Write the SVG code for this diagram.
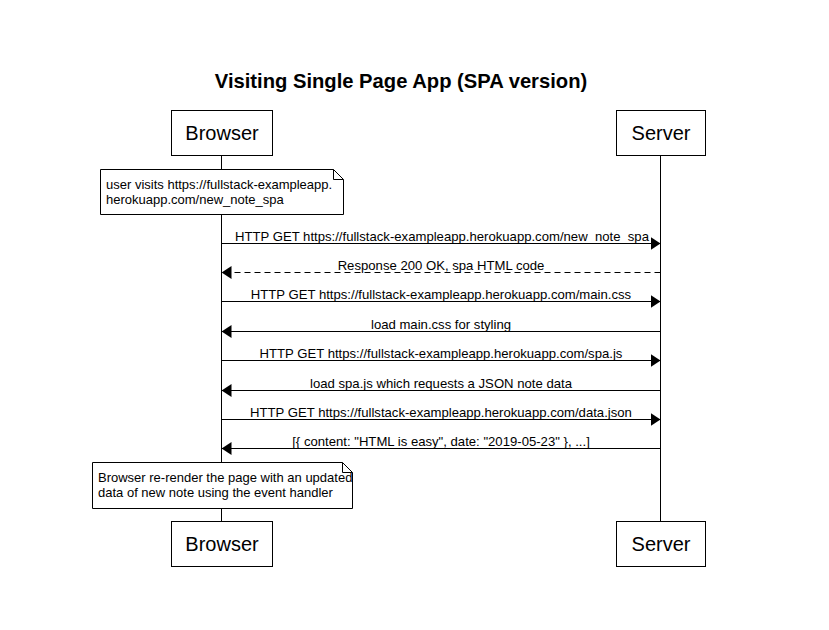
<svg xmlns="http://www.w3.org/2000/svg" width="829" height="630" viewBox="0 0 829 630">
  <style>
    text { font-family: "Liberation Sans", Arial, sans-serif; fill: #000; }
    .title { font-size: 20.2px; font-weight: bold; }
    .actor rect { fill: #fff; stroke: #000; stroke-width: 1; }
    .actor text { font-size: 20px; }
    .note path { fill: #fff; stroke: #000; stroke-width: 1; }
    .note text { font-size: 13px; }
    .msg line { stroke: #000; stroke-width: 1; }
    .msg text { font-size: 13.13px; }
    .dashed { stroke-dasharray: 6 4; }
    .life { stroke: #000; stroke-width: 1; }
  </style>
  <defs>
    <marker id="arrow" viewBox="0 0 10 10" refX="10" refY="5" markerWidth="10" markerHeight="13" markerUnits="userSpaceOnUse" orient="auto" preserveAspectRatio="none">
      <path d="M0,0 L10,5 L0,10 Z" fill="#000"/>
    </marker>
  </defs>
  <rect width="829" height="630" fill="#fff"/>

  <text class="title" x="401" y="88" text-anchor="middle">Visiting Single Page App (SPA version)</text>

  <!-- lifelines -->
  <g id="lifelines">
    <line class="life" x1="221.5" y1="155" x2="221.5" y2="521"/>
    <line class="life" x1="660.5" y1="155" x2="660.5" y2="521"/>
  </g>

  <g id="browser-top" class="actor">
    <rect x="171.5" y="110.5" width="101" height="45"/>
    <text x="222" y="140" text-anchor="middle">Browser</text>
  </g>
  <g id="server-top" class="actor">
    <rect x="616.5" y="110.5" width="89" height="45"/>
    <text x="661" y="140" text-anchor="middle">Server</text>
  </g>
  <g id="browser-bottom" class="actor">
    <rect x="171.5" y="521.5" width="101" height="45"/>
    <text x="222" y="551" text-anchor="middle">Browser</text>
  </g>
  <g id="server-bottom" class="actor">
    <rect x="616.5" y="521.5" width="89" height="45"/>
    <text x="661" y="551" text-anchor="middle">Server</text>
  </g>

  <g id="note-visit" class="note">
    <path d="M100.5,169.5 H333.5 L343.5,179.5 V214.5 H100.5 Z M333.5,169.5 V179.5 H343.5"/>
    <text x="106" y="189">user visits https://fullstack-exampleapp.</text>
    <text x="106" y="204">herokuapp.com/new_note_spa</text>
  </g>

  <g id="note-render" class="note">
    <path d="M92.5,462.5 H342.5 L352.5,472.5 V508.5 H92.5 Z M342.5,462.5 V472.5 H352.5"/>
    <text x="98" y="482">Browser re-render the page with an updated</text>
    <text x="98" y="497">data of new note using the event handler</text>
  </g>

  <g id="connectors" class="msg">
    <line x1="221.5" y1="243.5" x2="660.5" y2="243.5" marker-end="url(#arrow)"/>
    <text x="442" y="241" text-anchor="middle">HTTP GET https://fullstack-exampleapp.herokuapp.com/new_note_spa</text>

    <line class="dashed" x1="660.5" y1="272.5" x2="221.5" y2="272.5" marker-end="url(#arrow)"/>
    <text x="441" y="270" text-anchor="middle">Response 200 OK, spa HTML code</text>

    <line x1="221.5" y1="301.5" x2="660.5" y2="301.5" marker-end="url(#arrow)"/>
    <text x="441" y="299" text-anchor="middle">HTTP GET https://fullstack-exampleapp.herokuapp.com/main.css</text>

    <line x1="660.5" y1="331.5" x2="221.5" y2="331.5" marker-end="url(#arrow)"/>
    <text x="441" y="329" text-anchor="middle">load main.css for styling</text>

    <line x1="221.5" y1="360.5" x2="660.5" y2="360.5" marker-end="url(#arrow)"/>
    <text x="441" y="358" text-anchor="middle">HTTP GET https://fullstack-exampleapp.herokuapp.com/spa.js</text>

    <line x1="660.5" y1="390.5" x2="221.5" y2="390.5" marker-end="url(#arrow)"/>
    <text x="441" y="388" text-anchor="middle">load spa.js which requests a JSON note data</text>

    <line x1="221.5" y1="419.5" x2="660.5" y2="419.5" marker-end="url(#arrow)"/>
    <text x="441" y="417" text-anchor="middle">HTTP GET https://fullstack-exampleapp.herokuapp.com/data.json</text>

    <line x1="660.5" y1="448.5" x2="221.5" y2="448.5" marker-end="url(#arrow)"/>
    <text x="441" y="446" text-anchor="middle">[{ content: "HTML is easy", date: "2019-05-23" }, ...]</text>
  </g>
</svg>
